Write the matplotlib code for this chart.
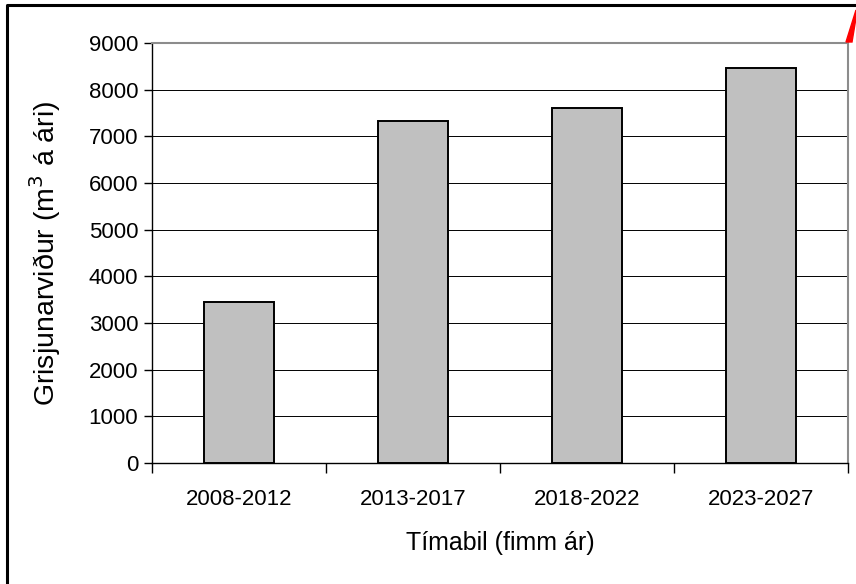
import matplotlib.pyplot as plt
from matplotlib.lines import Line2D
from matplotlib.patches import Polygon
import numpy as np

periods = ["2008-2012", "2013-2017", "2018-2022", "2023-2027"]
volume = [3450, 7335, 7600, 8460]
yticks = [0, 1000, 2000, 3000, 4000, 5000, 6000, 7000, 8000, 9000]

plt.rcParams['font.family'] = ['Liberation Sans', 'DejaVu Sans']

W, H = 856, 584
fig = plt.figure(figsize=(W / 100, H / 100), dpi=100)
ax = fig.add_axes([152 / W, (H - 463) / H, (848 - 152) / W, (463 - 43) / H])

x = np.arange(len(periods))
ax.bar(x, volume, width=0.4, color='#c0c0c0', edgecolor='black', linewidth=1.4, zorder=3)

ax.set_xlim(-0.5, len(periods) - 0.5)
ax.set_ylim(0, 9000)
ax.set_yticks(yticks)
ax.yaxis.grid(True, color='black', linewidth=0.7, zorder=0)

# category labels centred, ticks on category boundaries
ax.set_xticks(x)
ax.set_xticklabels(periods, fontsize=16)
ax.tick_params(axis='x', which='major', length=0, pad=19)
ax.set_xticks(np.arange(-0.5, len(periods)), minor=True)
ax.tick_params(axis='x', which='minor', length=7, width=1, direction='out')
ax.tick_params(axis='y', length=6, width=1, labelsize=16, pad=4)

for s in ['top', 'right']:
    ax.spines[s].set_color('#8c8c8c')
    ax.spines[s].set_linewidth(1.5)
for s in ['left', 'bottom']:
    ax.spines[s].set_color('black')
    ax.spines[s].set_linewidth(1)

ax.set_xlabel("Tímabil (fimm ár)", fontsize=18, labelpad=15)
ax.set_ylabel("Grisjunarviður (m$^3$ á ári)", fontsize=20.5, labelpad=18)

# outer frame (top and left only visible)
fig.add_artist(Line2D([7.5 / W, 7.5 / W, 1], [0, 1 - 4.5 / H, 1 - 4.5 / H],
                      color='black', linewidth=2.2))

# red shape in the top right corner
tri = [(846 / W, 1 - 42 / H), (852 / W, 1 - 42 / H), (856 / W, 1 - 18 / H), (856 / W, 1 - 10 / H)]
fig.add_artist(Polygon(tri, closed=True, color='red', transform=fig.transFigure))

fig.savefig("out.png", dpi=100)
